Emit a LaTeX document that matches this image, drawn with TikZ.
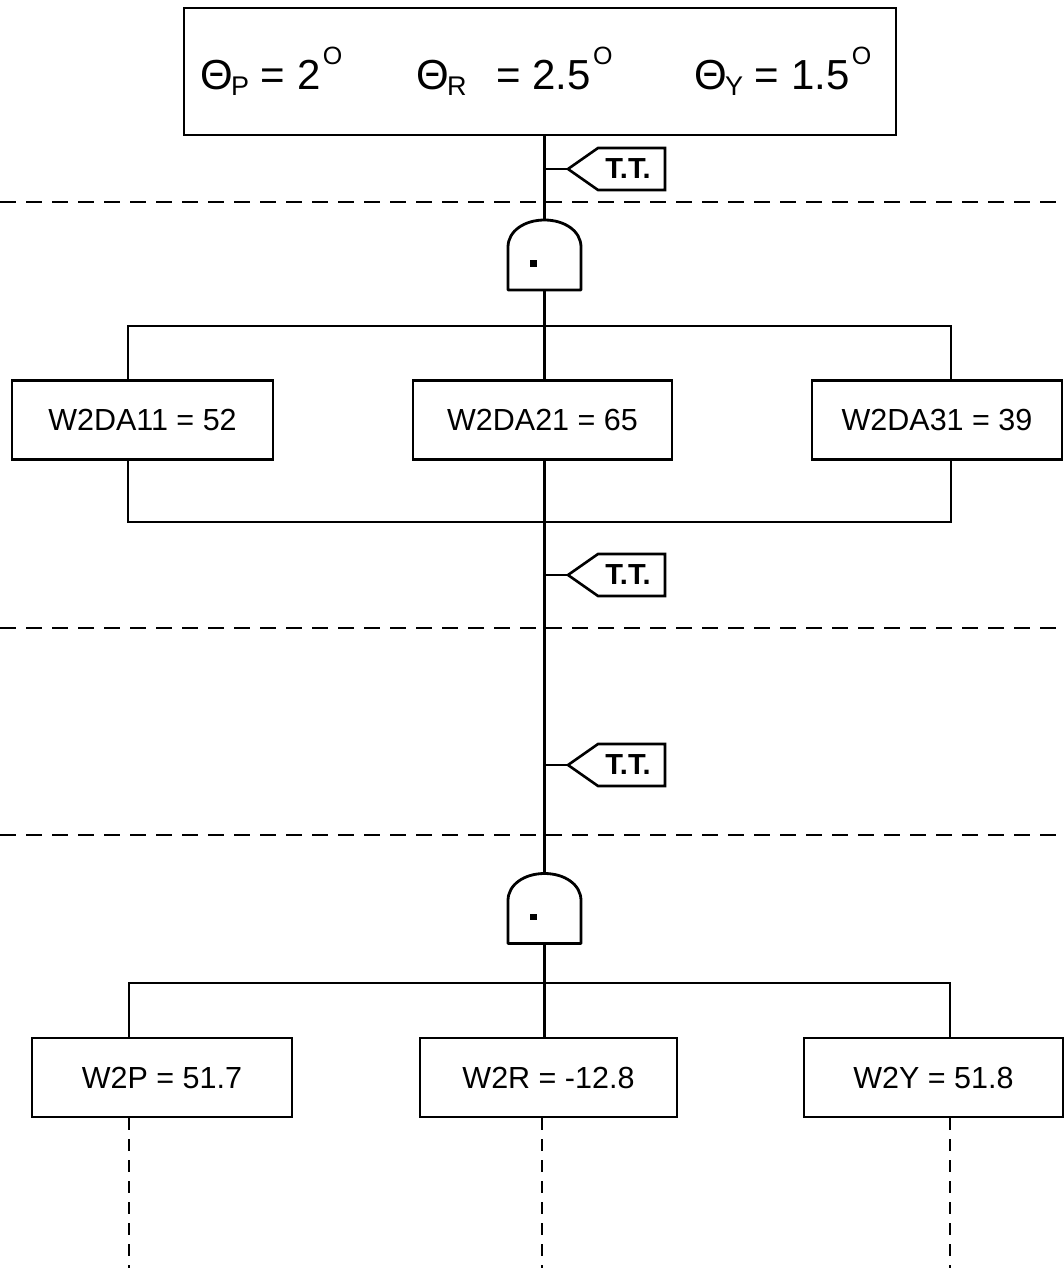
\documentclass[tikz,border=0pt]{standalone}
\usepackage{fontspec}
\setmainfont{Liberation Sans}
% #1 subscript, #2 space before the equals sign, #3 value
\newcommand{\tiltangle}[3]{Θ\kern-0.04em\raisebox{-0.14em}{\fontsize{27}{27}\selectfont #1}#2= #3\kern0.06em\raisebox{0.6em}{\fontsize{25}{25}\selectfont O}}
\begin{document}
\begin{tikzpicture}[x=1pt,y=-1pt,
  box/.style={draw, line width=2.6pt, inner sep=0pt, minimum height=79pt,
    font=\fontsize{30.5}{35}\selectfont},
  wire/.style={line width=2.4pt},
  sep/.style={line width=2.6pt, dash pattern=on 16pt off 10pt},
  vdash/.style={line width=2.2pt, dash pattern=on 12pt off 9pt},
  tagline/.style={line width=2.6pt, line join=miter},
  gateline/.style={line width=2.8pt, line join=round},
  ttlabel/.style={font=\bfseries\fontsize{29}{32}\selectfont, inner sep=0pt},
  angle/.style={anchor=base west, inner sep=0pt, font=\fontsize{42}{42}\selectfont},
  pics/andgate/.style={code={
    \draw[gateline] (-36.5,35) -- (-36.5,-8)
      .. controls (-36.5,-24) and (-20,-35) .. (0,-35)
      .. controls (20,-35) and (36.5,-24) .. (36.5,-8)
      -- (36.5,35) -- cycle;
    \fill (-14.5,5) rectangle (-8,11.5);
    \coordinate (-in) at (0,-35);
    \coordinate (-out) at (0,35);
  }},
  pics/tttag/.style={code={
    \draw[tagline] (0,0) -- (30,-21) -- (97,-21) -- (97,21) -- (30,21) -- cycle;
    \node[ttlabel] (-label) at (60,0) {T.T.};
    \coordinate (-tip) at (0,0);
  }}]
\useasboundingbox (0,0) rectangle (1064,1268);

% top event
\node[draw, line width=2.6pt, minimum width=712pt, minimum height=127pt] (top) at (540,71.5) {};
\node[angle] (thp) at (200,90) {\tiltangle{P}{\ }{2}};
\node[angle] (thr) at (416,90) {\tiltangle{R}{\hspace{0.7em}}{2.5}};
\node[angle] (thy) at (694,90) {\tiltangle{Y}{\ }{1.5}};

% level separators
\draw[sep] (0,202) -- (1064,202);
\draw[sep] (0,628) -- (1064,628);
\draw[sep] (0,835) -- (1064,835);

% gates
\pic (g1) at (544.5,255) {andgate};
\pic (g2) at (544.5,908.5) {andgate};

% transfer tags
\pic (t1) at (568,169) {tttag};
\pic (t2) at (568,575) {tttag};
\pic (t3) at (568,765) {tttag};

% first row of boxes
\node[box, minimum width=261pt] (da11) at (142.5,420) {W2DA11 = 52};
\node[box, minimum width=259pt] (da21) at (542.5,420) {W2DA21 = 65};
\node[box, minimum width=250pt] (da31) at (937,420) {W2DA31 = 39};

% second row of boxes
\node[box, minimum width=260pt] (w2p) at (162,1077.5) {W2P = 51.7};
\node[box, minimum width=257pt] (w2r) at (548.5,1077.5) {W2R = -12.8};
\node[box, minimum width=259pt] (w2y) at (933.5,1077.5) {W2Y = 51.8};

% bus coordinates
\coordinate (b1) at (544.5,326);
\coordinate (b1l) at (128,326);
\coordinate (b1r) at (951,326);
\coordinate (b2l) at (128,522);
\coordinate (b2r) at (951,522);
\coordinate (b3l) at (129,983);
\coordinate (b3r) at (950,983);
\coordinate (e1) at (129,1268);
\coordinate (e2) at (542,1268);
\coordinate (e3) at (950,1268);

% spine and connectors
\draw[wire] (top.south -| g1-in) -- (g1-in);
\draw[wire] (g1-in |- t1-tip) -- (t1-tip);
\draw[wire] (g1-out) -- (b1) -- (da21.north -| b1);
\draw[wire] (da11.north -| b1l) -- (b1l) -- (b1r) -- (da31.north -| b1r);
\draw[wire] (da11.south -| b2l) -- (b2l) -- (b2r) -- (da31.south -| b2r);
\draw[wire] (da21.south -| g2-in) -- (g2-in);
\draw[wire] (g2-in |- t2-tip) -- (t2-tip);
\draw[wire] (g2-in |- t3-tip) -- (t3-tip);
\draw[wire] (g2-out) -- (w2r.north -| g2-out);
\draw[wire] (w2p.north -| b3l) -- (b3l) -- (b3r) -- (w2y.north -| b3r);

% continuation below
\draw[vdash] (w2p.south -| e1) -- (e1);
\draw[vdash] (w2r.south -| e2) -- (e2);
\draw[vdash] (w2y.south -| e3) -- (e3);
\end{tikzpicture}
\end{document}
